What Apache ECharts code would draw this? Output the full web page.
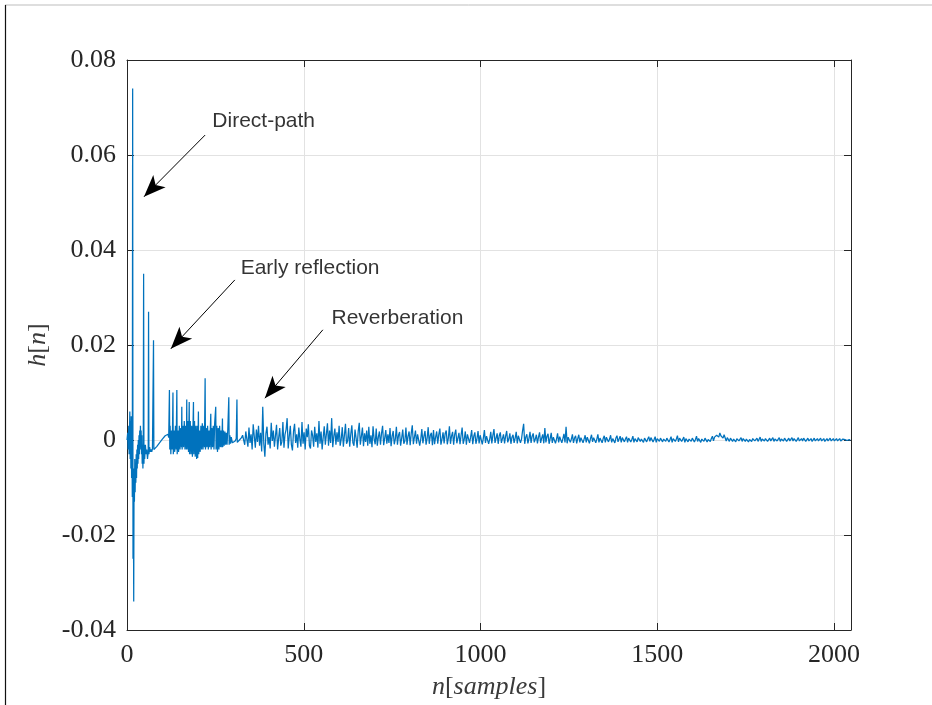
<!DOCTYPE html>
<html>
<head>
<meta charset="utf-8">
<script src="https://cdn.jsdelivr.net/npm/echarts@6/dist/echarts.min.js"></script>
<style>
html,body{margin:0;padding:0;background:#fff;}
#chart{width:932px;height:705px;}
</style>
</head>
<body>
<div id="chart"></div>
<script>
// ---- data ----
var xTicks = [0, 500, 1000, 1500, 2000];
var yTicks = [-0.04, -0.02, 0, 0.02, 0.04, 0.06, 0.08];

// direct path + early reflections: [sample n, h[n]]
var earlyPts = [
  [0,0],[2,0.0015],[3,-0.002],[5,0.003],[6,-0.003],[8,0.006],[9,-0.004],[10,0.004],[11,-0.006],[12,0.005],
  [13,-0.008],[14,0.002],[15,-0.012],[16,0.074],[17,-0.025],[18,-0.010],[19,-0.034],[20,-0.006],[21,-0.013],
  [22,-0.004],[23,-0.011],[24,-0.005],[25,-0.009],[26,-0.003],[27,-0.008],[28,-0.002],[29,-0.006],[30,-0.001],
  [31,-0.005],[32,0.000],[33,-0.004],[34,0.001],[35,-0.003],[36,0.002],[37,-0.002],[38,0.003],[39,-0.001],
  [40,0.002],[41,-0.003],[42,0.001],[43,-0.005],[44,-0.001],[45,-0.006],[46,-0.002],[47,0.035],[48,-0.005],
  [49,-0.001],[50,-0.004],[52,-0.001],[54,-0.003],[56,-0.002],[58,-0.004],[60,-0.0025],[61,0.027],[62,-0.003],
  [64,-0.0015],[66,-0.0025],[68,-0.002],[70,-0.0025],[72,-0.0018],[74,-0.002],[75,0.021],[76,-0.002],
  [78,-0.0016],[80,-0.0018],[84,-0.0014],[88,-0.001],[92,-0.0006],[96,-0.0002],[100,0.0002],[104,0.0006],
  [108,0.0009],[112,0.0011],[116,0.0012]
];

// cluster of strong early reflections: [sample n, h[n]]
var clusterPts = [
  [118,0.0005],[120,0.0105],[121,-0.002],[122,0.003],[124,-0.003],[126,0.002],[128,-0.002],[130,0.010],
  [131,-0.003],[133,0.002],[135,-0.0025],[137,0.003],[139,-0.002],[141,0.0105],[142,-0.003],[144,0.002],
  [146,-0.0025],[148,0.003],[150,-0.002],[152,0.0025],[154,-0.0015],[155,0.007],[156,-0.002],[158,0.003],
  [160,-0.0015],[162,0.004],[164,-0.002],[166,0.003],[168,-0.002],[169,0.0085],[170,-0.002],[172,0.004],
  [174,-0.0025],[176,0.008],[177,-0.003],[179,0.004],[181,-0.003],[183,0.003],[185,-0.0035],[188,0.008],
  [189,-0.003],[191,0.004],[193,-0.0035],[195,0.003],[197,-0.004],[199,0.003],[200,-0.0038],[202,0.006],
  [203,-0.003],[205,0.002],[207,-0.0025],[209,0.003],[211,-0.002],[213,0.0035],[215,-0.002],[217,0.003],
  [219,-0.0015],[221,0.013],[222,-0.002],[224,0.0025],[226,-0.0015],[228,0.003],[230,-0.002],[232,0.002],
  [234,-0.0015],[237,0.0055],[238,-0.002],[240,0.0025],[242,-0.0015],[244,0.003],[246,-0.002],[248,0.0035],
  [251,0.007],[252,-0.002],[254,0.003],[256,-0.0025],[258,0.0025],[260,-0.002],[262,0.003],[264,-0.0015],
  [266,0.002],[268,-0.0015],[270,0.0045],[271,-0.0015],[273,0.002],[275,-0.0012],[277,0.0018],[279,-0.001],
  [281,0.0015],[283,-0.001],[285,0.002],[288,0.009],[289,-0.001],[291,0.001],[293,-0.0008],[295,0.0006],
  [298,-0.0006],[302,-0.0004],[306,-0.0002],[309,0.0003],[311,0.0085],[312,-0.0005],[315,-0.0002],
  [318,0.0000],[321,0.0002],[324,0.0005],[327,0.001]
];

// reverberation tail, samples n = tailStart + i*tailStep ; values in units of 1e-4
var tailStart = 330;
var tailStep = 3;
var tailH_e4 = [
  6,-10,18,2,-14,26,-6,12,-20,33,8,-16,22,-4,30,-12,15,-24,70,-8,
  -35,14,28,-10,6,-18,36,-2,20,-14,9,32,-20,4,25,-12,-4,38,-16,12,
  22,46,-18,8,30,-10,-22,18,34,-6,12,-16,26,2,-14,38,-8,16,-20,24,
  6,33,-12,-18,20,10,-14,28,-4,14,-16,40,-8,18,-20,6,29,-10,12,35,
  -12,20,-6,46,-15,8,24,-10,16,-4,30,-12,2,27,-14,10,34,-8,-2,25,
  -14,12,31,-6,-12,22,4,-16,18,36,-10,8,26,-13,14,-4,20,-12,28,-8,
  10,-15,29,2,-9,24,-12,6,18,-10,14,30,-11,4,21,-8,12,-6,25,-13,
  8,19,-9,2,28,-10,10,17,-12,4,22,-8,-2,26,-10,8,18,-11,14,31,
  -9,6,20,-8,12,16,-12,2,23,-7,8,19,-10,4,27,-8,10,15,-11,21,
  -9,6,18,-8,12,24,-10,2,16,-7,14,20,-9,4,29,-8,8,17,-10,12,
  22,-7,4,15,-9,10,26,-8,2,18,-10,12,14,-6,6,21,-9,8,16,-8,
  3,19,-7,10,14,-9,4,21,-6,8,12,-8,2,17,-7,10,23,-6,4,14,
  -8,9,16,-6,3,12,-7,8,19,-5,2,14,-8,6,11,-6,4,17,-7,9,
  13,-6,2,20,34,-8,6,12,-7,3,17,-6,8,14,-5,2,11,-7,6,16,
  -6,4,12,-7,25,-5,8,13,-8,3,15,-6,6,10,-7,2,14,-5,7,11,
  -6,3,13,-5,28,-7,6,10,-5,2,12,-6,4,9,-7,3,11,-5,5,8,
  -6,2,10,-5,6,9,-7,3,11,-4,5,8,-6,2,12,-5,4,7,-6,3,
  9,-5,6,8,-4,2,10,-5,3,7,-6,4,9,-4,2,8,-5,5,6,-4,
  2,7,-5,4,6,-4,1,8,-5,3,6,-4,5,7,-3,2,6,-5,4,5,
  -4,2,7,-3,5,6,-4,1,7,-5,3,5,-3,4,8,-4,2,6,-3,4,
  6,-4,1,7,-5,3,5,-3,2,9,-4,4,6,-3,1,6,-5,3,7,-4,
  2,6,-3,4,5,-4,1,8,-3,3,5,-5,2,6,-3,4,7,-4,1,5,
  -3,3,8,-2,6,4,10,13,6,15,9,12,4,11,7,-2,5,8,-3,4,
  6,-3,2,5,-4,3,6,-2,1,5,-3,3,4,-3,2,5,-4,1,4,-3,
  3,5,-2,2,4,-3,1,6,-3,2,4,-2,3,5,-3,1,4,-2,2,5,
  -3,2,4,-2,1,5,-3,2,3,-2,4,3,-3,1,4,-2,2,5,-2,3,
  3,-3,1,5,-2,2,3,-2,4,2,-3,1,4,-2,2,3,-3,1,4,-2,
  2,3,-2,1,4,-2,2,3,-3,1,3,-2,2,4,-2,1,3,-2,2,3,
  -2,1,3,-2,2,2,-2,1,3,-1,2,1,-1
];

// annotations: text, text anchor [n,h], arrow start [n,h], arrow tip [n,h]
var annoText  = ['Direct-path', 'Early reflection', 'Reverberation'];
var annoPos   = [[240, 0.0672], [320, 0.0362], [577, 0.0257]];
var arrowFrom = [[221, 0.0642], [305, 0.0337], [554, 0.0232]];
var arrowTo   = [[48, 0.0512], [124, 0.0192], [390, 0.0088]];

// ---- build ----
var seriesData = earlyPts.concat(clusterPts);
tailH_e4.forEach(function (v, i) {
  seriesData.push([tailStart + i * tailStep, v / 10000]);
});

var serif = 'Liberation Serif, DejaVu Serif, serif';
var axisCol = '#262626';
var gridCol = '#e2e2e2';

var chart = echarts.init(document.getElementById('chart'), null, {renderer: 'canvas'});
var option = {
  animation: false,
  backgroundColor: '#ffffff',
  grid: {left: 127, right: 81, top: 60, bottom: 75, containLabel: false},
  graphic: [
    {type: 'line', shape: {x1: 5, y1: 5, x2: 932, y2: 5}, style: {stroke: '#bdbdbd', lineWidth: 1}, silent: true},
    {type: 'line', shape: {x1: 5.5, y1: 5, x2: 5.5, y2: 705}, style: {stroke: '#111111', lineWidth: 1.2}, silent: true}
  ],
  xAxis: [{
    type: 'value', position: 'bottom', min: 0, max: 2048, interval: 500,
    name: '{i|n}[{i|samples}]', nameLocation: 'middle', nameGap: 44,
    nameTextStyle: {fontFamily: serif, fontSize: 26, color: '#3a3a3a',
      rich: {i: {fontFamily: serif, fontStyle: 'italic', fontSize: 26, color: '#3a3a3a'}}},
    axisLine: {show: true, onZero: false, lineStyle: {color: axisCol, width: 1}},
    axisTick: {show: true, inside: true, length: 7, lineStyle: {color: axisCol}},
    axisLabel: {fontFamily: serif, fontSize: 26, color: axisCol, margin: 12, showMaxLabel: false,
      formatter: function (v) { return String(v); }},
    splitLine: {show: true, lineStyle: {color: gridCol, width: 1}}
  }, {
    type: 'value', position: 'top', min: 0, max: 2048, interval: 500,
    axisLine: {show: true, onZero: false, lineStyle: {color: axisCol, width: 1}},
    axisTick: {show: true, inside: true, length: 7, lineStyle: {color: axisCol}},
    axisLabel: {show: false},
    splitLine: {show: false}
  }],
  yAxis: [{
    type: 'value', position: 'left', min: -0.04, max: 0.08, interval: 0.02,
    name: '{i|h}[{i|n}]', nameLocation: 'middle', nameGap: 71, nameRotate: 90,
    nameTextStyle: {fontFamily: serif, fontSize: 26, color: '#3a3a3a',
      rich: {i: {fontFamily: serif, fontStyle: 'italic', fontSize: 26, color: '#3a3a3a'}}},
    axisLine: {show: true, onZero: false, lineStyle: {color: axisCol, width: 1}},
    axisTick: {show: true, inside: true, length: 7, lineStyle: {color: axisCol}},
    axisLabel: {fontFamily: serif, fontSize: 26, color: axisCol, margin: 11},
    splitLine: {show: true, lineStyle: {color: gridCol, width: 1}}
  }, {
    type: 'value', position: 'right', min: -0.04, max: 0.08, interval: 0.02,
    axisLine: {show: true, onZero: false, lineStyle: {color: axisCol, width: 1}},
    axisTick: {show: true, inside: true, length: 7, lineStyle: {color: axisCol}},
    axisLabel: {show: false},
    splitLine: {show: false}
  }],
  series: [{
    type: 'line',
    name: 'h[n]',
    data: seriesData,
    showSymbol: false,
    symbol: 'none',
    lineStyle: {color: '#0072BD', width: 1.25},
    z: 3,
    markLine: {
      silent: true,
      symbol: ['none', 'arrow'],
      symbolSize: [13, 22],
      label: {show: false},
      lineStyle: {color: '#000000', width: 1, type: 'solid'},
      data: arrowFrom.map(function (p, k) {
        return [{coord: p}, {coord: arrowTo[k]}];
      })
    }
  }, {
    type: 'scatter',
    name: 'annotations',
    symbolSize: 1,
    itemStyle: {color: 'rgba(0,0,0,0)'},
    silent: true,
    data: annoPos.map(function (p, k) { return {value: p, name: annoText[k]}; }),
    label: {
      show: true, position: 'right', distance: 0,
      formatter: function (p) { return p.name; },
      fontFamily: 'Liberation Sans, Arial, sans-serif', fontSize: 21, color: '#000000'
    },
    z: 5
  }]
};
chart.setOption(option);
</script>
</body>
</html>
